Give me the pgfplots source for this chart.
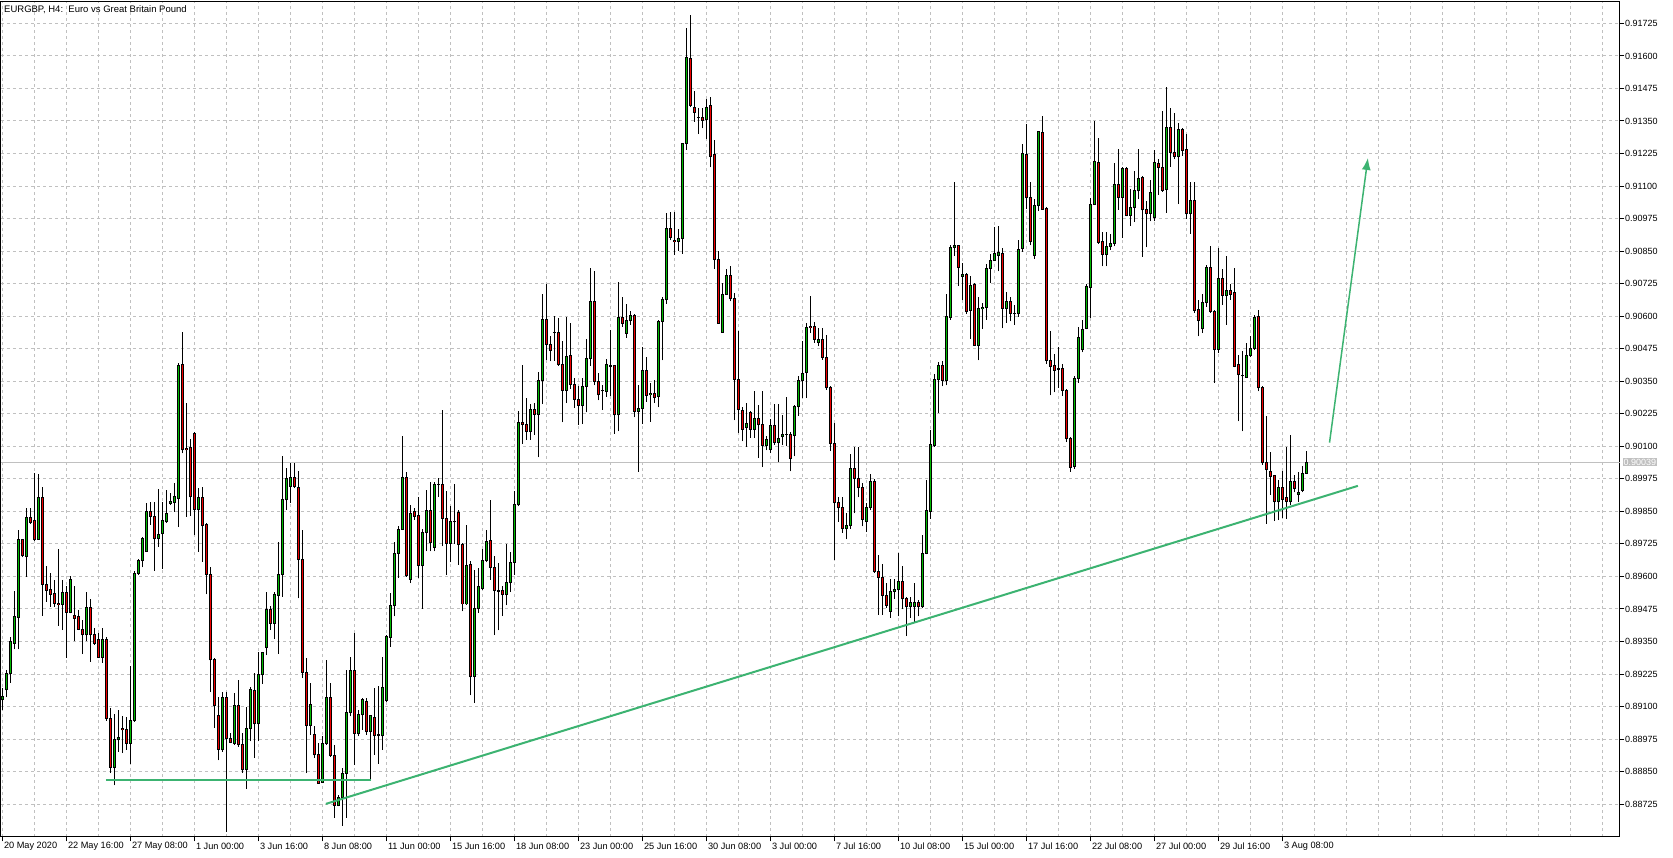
\documentclass[border=0pt]{standalone}
\usepackage{pgfplots}
\pgfplotsset{compat=1.18}
\usepackage{pgfplotstable}
\usepackage{fontspec}
\setmainfont{Liberation Sans}
\usetikzlibrary{arrows.meta}
\definecolor{bull}{RGB}{0,185,0}
\definecolor{bear}{RGB}{240,0,0}
\definecolor{gridgray}{RGB}{192,192,192}
\definecolor{pricegray}{RGB}{192,192,192}
\definecolor{trend}{RGB}{60,179,113}

\pgfplotstableread{
k o h l c
0 0.89126 0.89170 0.89085 0.89138
1 0.89164 0.89241 0.89136 0.89228
2 0.89228 0.89369 0.89192 0.89350
3 0.89343 0.89544 0.89320 0.89446
4 0.89443 0.89778 0.89320 0.89740
5 0.89740 0.89743 0.89673 0.89679
6 0.89676 0.89862 0.89597 0.89827
7 0.89827 0.89862 0.89801 0.89807
8 0.89813 0.89996 0.89737 0.89740
9 0.89743 0.89992 0.89740 0.89904
10 0.89904 0.89945 0.89449 0.89570
11 0.89570 0.89640 0.89503 0.89545
12 0.89548 0.89612 0.89484 0.89531
13 0.89533 0.89586 0.89484 0.89497
14 0.89497 0.89705 0.89411 0.89493
15 0.89493 0.89586 0.89394 0.89539
16 0.89539 0.89565 0.89288 0.89462
17 0.89462 0.89602 0.89458 0.89589
18 0.89448 0.89565 0.89350 0.89439
19 0.89446 0.89471 0.89394 0.89397
20 0.89397 0.89433 0.89301 0.89375
21 0.89375 0.89539 0.89350 0.89481
22 0.89481 0.89513 0.89273 0.89375
23 0.89375 0.89401 0.89337 0.89343
24 0.89359 0.89382 0.89286 0.89289
25 0.89289 0.89401 0.89269 0.89359
26 0.89359 0.89369 0.89046 0.89055
27 0.89055 0.89096 0.88844 0.88866
28 0.88866 0.89071 0.88797 0.88972
29 0.88972 0.89087 0.88927 0.88982
30 0.89017 0.89062 0.88921 0.89010
31 0.89013 0.89058 0.88934 0.88959
32 0.88959 0.89257 0.88880 0.89046
33 0.89046 0.89621 0.89042 0.89612
34 0.89612 0.89667 0.89606 0.89661
35 0.89661 0.89753 0.89635 0.89746
36 0.89695 0.89883 0.89693 0.89851
37 0.89851 0.89885 0.89798 0.89832
38 0.89832 0.89885 0.89622 0.89744
39 0.89746 0.89936 0.89714 0.89762
40 0.89763 0.89885 0.89629 0.89813
41 0.89810 0.89932 0.89807 0.89840
42 0.89882 0.89919 0.89874 0.89886
43 0.89883 0.89960 0.89848 0.89906
44 0.89900 0.90421 0.89789 0.90412
45 0.90416 0.90538 0.90073 0.90086
46 0.90090 0.90265 0.89830 0.90086
47 0.90095 0.90128 0.89832 0.89906
48 0.90150 0.90156 0.89759 0.89858
49 0.89858 0.89938 0.89695 0.89904
50 0.89904 0.89945 0.89657 0.89794
51 0.89798 0.89804 0.89531 0.89608
52 0.89608 0.89638 0.89155 0.89279
53 0.89279 0.89286 0.89017 0.89104
54 0.89064 0.89138 0.88893 0.88936
55 0.88934 0.89155 0.88927 0.89136
56 0.89136 0.89155 0.88618 0.88978
57 0.88978 0.88998 0.88959 0.88963
58 0.88959 0.89151 0.88953 0.89104
59 0.89104 0.89202 0.88946 0.88953
60 0.88953 0.88998 0.88844 0.88857
61 0.88859 0.89100 0.88783 0.89017
62 0.89017 0.89174 0.88966 0.89164
63 0.89161 0.89228 0.88902 0.89033
64 0.89033 0.89311 0.88966 0.89224
65 0.89222 0.89311 0.89187 0.89309
66 0.89328 0.89539 0.89298 0.89474
67 0.89474 0.89487 0.89394 0.89420
68 0.89420 0.89539 0.89359 0.89529
69 0.89526 0.89734 0.89302 0.89608
70 0.89608 0.90064 0.89522 0.89894
71 0.89894 0.90018 0.89855 0.89977
72 0.89945 0.90034 0.89883 0.89981
73 0.89981 0.90037 0.89938 0.89945
74 0.89942 0.90006 0.89516 0.89666
75 0.89666 0.89778 0.89209 0.89232
76 0.89232 0.89286 0.88844 0.89027
77 0.89027 0.89192 0.88991 0.89109
78 0.88991 0.89027 0.88902 0.88914
79 0.88914 0.88959 0.88803 0.88806
80 0.88809 0.88985 0.88806 0.88957
81 0.88957 0.89277 0.88953 0.89136
82 0.89136 0.89190 0.88908 0.88911
83 0.88911 0.88953 0.88671 0.88720
84 0.88720 0.88761 0.88716 0.88751
85 0.88752 0.88863 0.88641 0.88844
86 0.88844 0.89241 0.88672 0.89077
87 0.89077 0.89292 0.89062 0.89237
88 0.89237 0.89382 0.88876 0.88998
89 0.88998 0.89087 0.88985 0.89068
90 0.89068 0.89132 0.89010 0.89126
91 0.89119 0.89132 0.88991 0.89004
92 0.89004 0.89068 0.88818 0.89064
93 0.89059 0.89170 0.88914 0.88987
94 0.88989 0.89177 0.88880 0.88992
95 0.88987 0.89292 0.88934 0.89174
96 0.89123 0.89375 0.89119 0.89369
97 0.89366 0.89538 0.89330 0.89488
98 0.89488 0.89731 0.89446 0.89689
99 0.89689 0.89794 0.89593 0.89781
100 0.89781 0.90140 0.89778 0.89981
101 0.89981 0.90002 0.89599 0.89603
102 0.89589 0.89874 0.89574 0.89842
103 0.89849 0.89862 0.89817 0.89832
104 0.89833 0.89907 0.89594 0.89641
105 0.89641 0.89782 0.89475 0.89770
106 0.89770 0.89933 0.89696 0.89854
107 0.89853 0.89962 0.89696 0.89731
108 0.89713 0.89961 0.89696 0.89955
109 0.89955 0.89978 0.89907 0.89954
110 0.89955 0.90240 0.89715 0.89824
111 0.89824 0.89927 0.89607 0.89728
112 0.89728 0.89869 0.89654 0.89811
113 0.89811 0.89955 0.89726 0.89810
114 0.89847 0.89854 0.89645 0.89722
115 0.89722 0.89728 0.89466 0.89494
116 0.89494 0.89799 0.89491 0.89641
117 0.89645 0.89658 0.89143 0.89214
118 0.89216 0.89626 0.89114 0.89475
119 0.89475 0.89632 0.89459 0.89562
120 0.89555 0.89705 0.89549 0.89662
121 0.89662 0.89779 0.89654 0.89735
122 0.89738 0.89895 0.89587 0.89636
123 0.89636 0.89680 0.89374 0.89545
124 0.89545 0.89651 0.89393 0.89543
125 0.89545 0.89562 0.89447 0.89530
126 0.89530 0.89726 0.89489 0.89575
127 0.89575 0.89694 0.89540 0.89655
128 0.89655 0.89930 0.89607 0.89878
129 0.89875 0.90234 0.89869 0.90192
130 0.90192 0.90413 0.90110 0.90185
131 0.90183 0.90285 0.90125 0.90157
132 0.90157 0.90263 0.90125 0.90243
133 0.90243 0.90266 0.90144 0.90224
134 0.90224 0.90387 0.90057 0.90352
135 0.90352 0.90686 0.90262 0.90588
136 0.90588 0.90723 0.90432 0.90492
137 0.90492 0.90522 0.90426 0.90468
138 0.90538 0.90601 0.90428 0.90537
139 0.90538 0.90592 0.90410 0.90416
140 0.90416 0.90503 0.90192 0.90314
141 0.90314 0.90595 0.90266 0.90445
142 0.90449 0.90573 0.90320 0.90339
143 0.90339 0.90362 0.90247 0.90281
144 0.90281 0.90330 0.90183 0.90257
145 0.90257 0.90362 0.90185 0.90330
146 0.90330 0.90513 0.90230 0.90436
147 0.90436 0.90784 0.90410 0.90655
148 0.90655 0.90774 0.90334 0.90349
149 0.90349 0.90381 0.90276 0.90298
150 0.90314 0.90336 0.90240 0.90313
151 0.90311 0.90436 0.90291 0.90413
152 0.90409 0.90547 0.90294 0.90408
153 0.90409 0.90413 0.90148 0.90221
154 0.90221 0.90730 0.90157 0.90596
155 0.90596 0.90675 0.90560 0.90573
156 0.90535 0.90646 0.90518 0.90582
157 0.90582 0.90620 0.90567 0.90601
158 0.90601 0.90609 0.90211 0.90234
159 0.90234 0.90336 0.90003 0.90247
160 0.90247 0.90483 0.90185 0.90390
161 0.90390 0.90445 0.90272 0.90295
162 0.90298 0.90345 0.90195 0.90304
163 0.90304 0.90355 0.90266 0.90289
164 0.90291 0.90586 0.90250 0.90579
165 0.90579 0.90675 0.90430 0.90663
166 0.90663 0.90998 0.90648 0.90938
167 0.90938 0.91000 0.90891 0.90904
168 0.90890 0.91000 0.90836 0.90886
169 0.90886 0.90934 0.90852 0.90897
170 0.90900 0.91267 0.90840 0.91262
171 0.91262 0.91709 0.91239 0.91595
172 0.91591 0.91757 0.91403 0.91409
173 0.91403 0.91467 0.91348 0.91382
174 0.91364 0.91399 0.91300 0.91363
175 0.91364 0.91399 0.91322 0.91352
176 0.91357 0.91435 0.91280 0.91403
177 0.91408 0.91444 0.91172 0.91213
178 0.91220 0.91277 0.90781 0.90817
179 0.90817 0.90849 0.90571 0.90573
180 0.90539 0.90727 0.90538 0.90685
181 0.90685 0.90781 0.90682 0.90758
182 0.90758 0.90791 0.90657 0.90666
183 0.90666 0.90689 0.90200 0.90358
184 0.90358 0.90544 0.90151 0.90243
185 0.90238 0.90251 0.90119 0.90166
186 0.90173 0.90266 0.90097 0.90189
187 0.90228 0.90234 0.90132 0.90166
188 0.90166 0.90314 0.90132 0.90206
189 0.90205 0.90260 0.90055 0.90182
190 0.90182 0.90311 0.90020 0.90102
191 0.90102 0.90138 0.90084 0.90128
192 0.90087 0.90206 0.90074 0.90179
193 0.90180 0.90264 0.90106 0.90116
194 0.90116 0.90264 0.90038 0.90129
195 0.90136 0.90219 0.90106 0.90147
196 0.90147 0.90288 0.90100 0.90146
197 0.90147 0.90155 0.90004 0.90055
198 0.90141 0.90260 0.90061 0.90251
199 0.90251 0.90369 0.90218 0.90352
200 0.90352 0.90503 0.90285 0.90381
201 0.90385 0.90573 0.90285 0.90557
202 0.90561 0.90676 0.90535 0.90557
203 0.90561 0.90576 0.90497 0.90512
204 0.90499 0.90554 0.90484 0.90512
205 0.90512 0.90554 0.90433 0.90442
206 0.90442 0.90529 0.90317 0.90324
207 0.90324 0.90330 0.90081 0.90109
208 0.90109 0.90191 0.89664 0.89883
209 0.89883 0.89906 0.89811 0.89863
210 0.89863 0.89906 0.89767 0.89783
211 0.89783 0.89842 0.89742 0.89797
212 0.89794 0.90072 0.89783 0.90016
213 0.90016 0.90098 0.89842 0.89976
214 0.89976 0.90098 0.89904 0.89941
215 0.89941 0.89958 0.89792 0.89819
216 0.89811 0.89883 0.89771 0.89863
217 0.89863 0.89993 0.89856 0.89965
218 0.89965 0.89976 0.89614 0.89617
219 0.89617 0.89682 0.89453 0.89596
220 0.89596 0.89648 0.89453 0.89528
221 0.89528 0.89576 0.89480 0.89490
222 0.89466 0.89589 0.89442 0.89541
223 0.89543 0.89589 0.89514 0.89551
224 0.89548 0.89689 0.89446 0.89582
225 0.89582 0.89640 0.89473 0.89514
226 0.89514 0.89521 0.89371 0.89484
227 0.89483 0.89521 0.89442 0.89498
228 0.89483 0.89576 0.89423 0.89500
229 0.89500 0.89510 0.89446 0.89483
230 0.89483 0.89760 0.89477 0.89689
231 0.89689 0.89969 0.89685 0.89852
232 0.89849 0.90163 0.89822 0.90106
233 0.90102 0.90379 0.90098 0.90355
234 0.90355 0.90423 0.90228 0.90410
235 0.90410 0.90427 0.90330 0.90352
236 0.90352 0.90687 0.90334 0.90597
237 0.90594 0.90874 0.90587 0.90865
238 0.90865 0.91116 0.90833 0.90870
239 0.90872 0.90874 0.90717 0.90788
240 0.90754 0.90806 0.90662 0.90762
241 0.90762 0.90765 0.90608 0.90619
242 0.90622 0.90754 0.90512 0.90717
243 0.90720 0.90727 0.90485 0.90489
244 0.90489 0.90673 0.90430 0.90628
245 0.90628 0.90649 0.90550 0.90635
246 0.90635 0.90799 0.90587 0.90785
247 0.90785 0.90840 0.90728 0.90813
248 0.90813 0.90943 0.90813 0.90840
249 0.90833 0.90945 0.90772 0.90844
250 0.90840 0.90861 0.90553 0.90631
251 0.90631 0.90694 0.90574 0.90656
252 0.90656 0.90672 0.90580 0.90612
253 0.90612 0.90642 0.90567 0.90610
254 0.90610 0.90891 0.90598 0.90858
255 0.90861 0.91261 0.90847 0.91227
256 0.91223 0.91339 0.91011 0.91055
257 0.91055 0.91114 0.90872 0.90888
258 0.90833 0.91052 0.90820 0.91025
259 0.91025 0.91312 0.91004 0.91308
260 0.91305 0.91371 0.91008 0.91011
261 0.91014 0.91018 0.90416 0.90430
262 0.90430 0.90543 0.90296 0.90407
263 0.90410 0.90453 0.90307 0.90392
264 0.90399 0.90482 0.90325 0.90396
265 0.90399 0.90416 0.90293 0.90314
266 0.90314 0.90321 0.90116 0.90129
267 0.90129 0.90136 0.90002 0.90020
268 0.90024 0.90369 0.90013 0.90362
269 0.90362 0.90557 0.90344 0.90519
270 0.90471 0.90587 0.90461 0.90549
271 0.90553 0.90724 0.90549 0.90713
272 0.90710 0.91056 0.90594 0.91031
273 0.91031 0.91350 0.91027 0.91193
274 0.91189 0.91286 0.90878 0.90884
275 0.90887 0.90923 0.90791 0.90838
276 0.90838 0.90923 0.90791 0.90868
277 0.90868 0.90916 0.90855 0.90880
278 0.90880 0.91188 0.90868 0.91107
279 0.91107 0.91241 0.91008 0.91057
280 0.91057 0.91174 0.90900 0.91168
281 0.91168 0.91172 0.90983 0.90987
282 0.90987 0.91088 0.90948 0.91019
283 0.91019 0.91156 0.90961 0.91081
284 0.91081 0.91243 0.91049 0.91130
285 0.91134 0.91139 0.90829 0.91008
286 0.91008 0.91043 0.90864 0.90996
287 0.90996 0.91124 0.90964 0.91076
288 0.90980 0.91239 0.90964 0.91191
289 0.91188 0.91204 0.91066 0.91172
290 0.91172 0.91389 0.91079 0.91083
291 0.91088 0.91482 0.90998 0.91326
292 0.91326 0.91401 0.91175 0.91230
293 0.91230 0.91380 0.91203 0.91213
294 0.91213 0.91344 0.91031 0.91316
295 0.91316 0.91322 0.91216 0.91236
296 0.91239 0.91299 0.90973 0.90993
297 0.90993 0.91117 0.90916 0.91043
298 0.91043 0.91114 0.90612 0.90622
299 0.90627 0.90663 0.90522 0.90583
300 0.90551 0.90686 0.90535 0.90654
301 0.90654 0.90797 0.90637 0.90788
302 0.90788 0.90870 0.90614 0.90618
303 0.90618 0.90624 0.90345 0.90471
304 0.90473 0.90861 0.90458 0.90746
305 0.90746 0.90782 0.90644 0.90679
306 0.90679 0.90832 0.90567 0.90697
307 0.90697 0.90723 0.90663 0.90685
308 0.90691 0.90784 0.90403 0.90407
309 0.90413 0.90452 0.90196 0.90375
310 0.90373 0.90467 0.90157 0.90371
311 0.90366 0.90496 0.90362 0.90448
312 0.90448 0.90525 0.90443 0.90477
313 0.90477 0.90605 0.90471 0.90596
314 0.90599 0.90624 0.90311 0.90324
315 0.90324 0.90330 0.90029 0.90036
316 0.90036 0.90215 0.89803 0.90010
317 0.90004 0.90077 0.89914 0.89984
318 0.89988 0.89991 0.89812 0.89886
319 0.89886 0.89972 0.89816 0.89940
320 0.89940 0.90004 0.89824 0.89897
321 0.89905 0.90097 0.89821 0.89888
322 0.89886 0.90142 0.89876 0.89965
323 0.89965 0.89991 0.89923 0.89937
324 0.89914 0.90001 0.89886 0.89924
325 0.89931 0.90025 0.89923 0.89997
326 0.89997 0.90080 0.89995 0.90038
}\candles

\begin{document}
\begin{tikzpicture}
\useasboundingbox (0,0) rectangle (1673pt,858pt);
\begin{axis}[
  at={(1pt,21pt)}, anchor=south west,
  scale only axis, width=1619pt, height=835pt,
  xmin=-0.3325, xmax=404.4175,
  ymin=0.885987, ymax=0.918073,
  clip mode=individual,
  axis line style={black, line width=1pt},
  tick align=outside,
  major tick length=4.5pt,
  minor tick length=0pt,
  tick style={black, line width=1pt},
  xtick pos=bottom,
  ytick pos=right,
  yticklabel pos=right,
  xtick={0,16,...,320},
  minor xtick={8,16,...,400},
  xticklabels={20 May 2020,22 May 16:00,27 May 08:00,1 Jun 00:00,3 Jun 16:00,8 Jun 08:00,11 Jun 00:00,15 Jun 16:00,18 Jun 08:00,23 Jun 00:00,25 Jun 16:00,30 Jun 08:00,3 Jul 00:00,7 Jul 16:00,10 Jul 08:00,15 Jul 00:00,17 Jul 16:00,22 Jul 08:00,27 Jul 00:00,29 Jul 16:00,3 Aug 08:00},
  ytick={0.88725,0.88850,0.88975,0.89100,0.89225,0.89350,0.89475,0.89600,0.89725,0.89850,0.89975,0.90100,0.90225,0.90350,0.90475,0.90600,0.90725,0.90850,0.90975,0.91100,0.91225,0.91350,0.91475,0.91600,0.91725},
  yticklabels={0.88725,0.88850,0.88975,0.89100,0.89225,0.89350,0.89475,0.89600,0.89725,0.89850,0.89975,0.90100,0.90225,0.90350,0.90475,0.90600,0.90725,0.90850,0.90975,0.91100,0.91225,0.91350,0.91475,0.91600,0.91725},
  xticklabel style={anchor=west, inner sep=0pt, xshift=1.5pt, yshift=-5pt, font=\fontsize{9.2pt}{11pt}\selectfont},
  yticklabel style={anchor=west, inner sep=0pt, xshift=0.5pt, font=\fontsize{9pt}{11pt}\selectfont},
  xmajorgrids, xminorgrids, ymajorgrids,
  major grid style={gridgray, line width=1pt, dash pattern=on 3pt off 3pt},
  minor grid style={gridgray, line width=1pt, dash pattern=on 3pt off 3pt},
]
% current price line
\addplot[pricegray, line width=1pt, forget plot] coordinates {(-0.3325,0.90039) (404.4175,0.90039)};
% wicks (low to high)
\addplot[black, line width=1pt, line cap=butt, forget plot,
  quiver={u=0, v={\thisrow{h}-\thisrow{l}}, every arrow/.style={-}}]
  table[x=k, y=l] {\candles};
% body outlines
\addplot[black, line width=3.2pt, line cap=butt, forget plot,
  quiver={u=0, v={abs(\thisrow{c}-\thisrow{o})+0.0000384}, every arrow/.style={-}}]
  table[x=k, y expr={min(\thisrow{o},\thisrow{c})-0.0000192}] {\candles};
% bull fill
\addplot[bull, line width=1.2pt, line cap=butt, forget plot,
  quiver={u=0, v={ifthenelse(\thisrow{c}>\thisrow{o}, max(\thisrow{c}-\thisrow{o}-0.0000384,0), 0)}, every arrow/.style={-}}]
  table[x=k, y expr={min(\thisrow{o},\thisrow{c})+0.0000192}] {\candles};
% bear fill
\addplot[bear, line width=1.2pt, line cap=butt, forget plot,
  quiver={u=0, v={ifthenelse(\thisrow{c}<\thisrow{o}, max(\thisrow{o}-\thisrow{c}-0.0000384,0), 0)}, every arrow/.style={-}}]
  table[x=k, y expr={min(\thisrow{o},\thisrow{c})+0.0000192}] {\candles};
% trend lines
\addplot[trend, line width=2pt, forget plot] coordinates {(25.9,0.88818) (92.1,0.88818)};
\addplot[trend, line width=2pt, forget plot] coordinates {(80.9,0.88726) (338.9,0.89948)};
\addplot[trend, line width=1.5pt, forget plot, -{Latex[length=12pt,width=9pt]}] coordinates {(331.8,0.90114) (341.4,0.91208)};
% title and price label
\node[anchor=west, inner sep=0pt, font=\fontsize{9.5pt}{11pt}\selectfont] at (rel axis cs:0,1) [xshift=3pt, yshift=-7.5pt] {EURGBP, H4:\ \ Euro vs Great Britain Pound};
\node[anchor=west, fill=pricegray, text=white, inner sep=1pt, font=\fontsize{9pt}{11pt}\selectfont] at (axis cs:404.4175,0.90039) [xshift=2.5pt] {0.90039};
\end{axis}
\end{tikzpicture}
\end{document}
